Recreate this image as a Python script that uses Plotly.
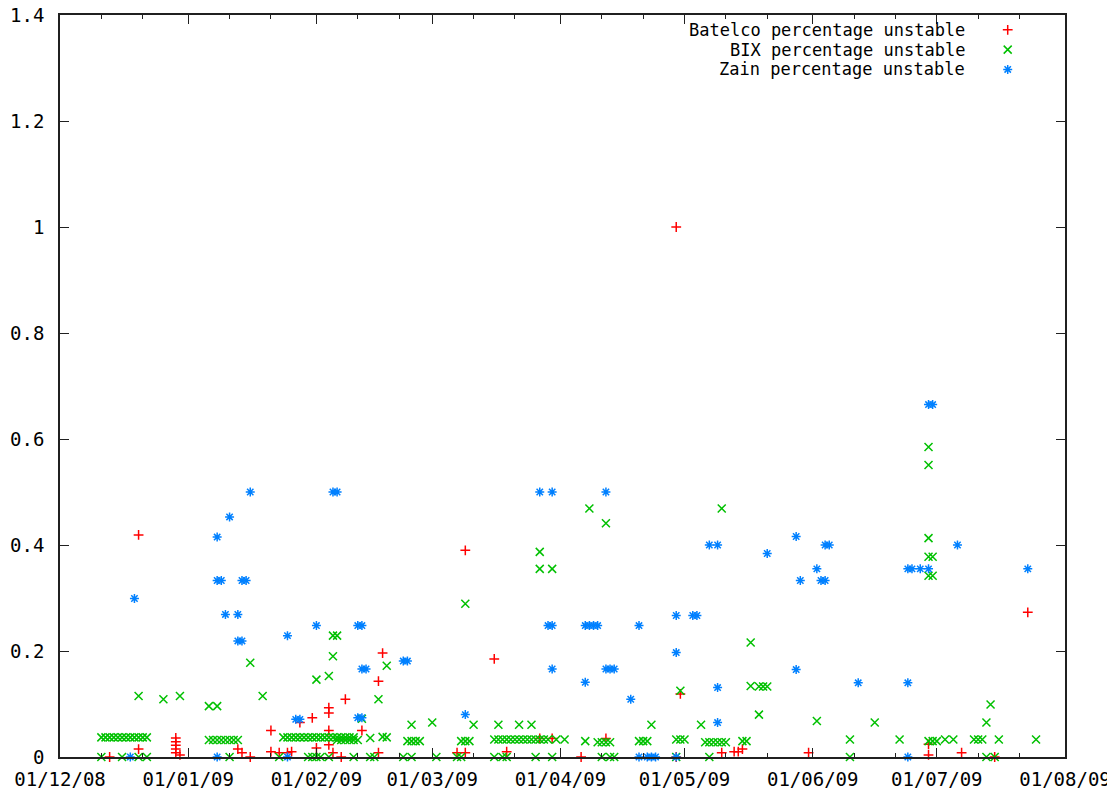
import plotly.graph_objects as go

# ---------------- data ----------------
batelco_dates = [
    "2008-12-13", "2008-12-20", "2008-12-20", "2008-12-29", "2008-12-29", "2008-12-29",
    "2008-12-29", "2008-12-29", "2008-12-30", "2009-01-13", "2009-01-14", "2009-01-16",
    "2009-01-21", "2009-01-21", "2009-01-23", "2009-01-25", "2009-01-26", "2009-01-28",
    "2009-01-31", "2009-02-01", "2009-02-04", "2009-02-04", "2009-02-04", "2009-02-04",
    "2009-02-05", "2009-02-07", "2009-02-08", "2009-02-12", "2009-02-16", "2009-02-17",
    "2009-02-16", "2009-03-07", "2009-03-09", "2009-03-09", "2009-03-16", "2009-03-19",
    "2009-03-27", "2009-03-30", "2009-04-06", "2009-04-12", "2009-04-29", "2009-04-29",
    "2009-04-30", "2009-05-10", "2009-05-13", "2009-05-14", "2009-05-15", "2009-05-31",
    "2009-06-29", "2009-06-29", "2009-07-07", "2009-07-15", "2009-07-23",
]
batelco_values = [
    0.0, 0.419, 0.015, 0.036, 0.029, 0.022,
    0.015, 0.008, 0.004, 0.015, 0.008, 0.0,
    0.05, 0.01, 0.008, 0.008, 0.01, 0.065,
    0.074, 0.017, 0.093, 0.083, 0.05, 0.023,
    0.008, 0.0, 0.109, 0.05, 0.143, 0.196,
    0.008, 0.008, 0.008, 0.39, 0.185, 0.01,
    0.035, 0.035, 0.0, 0.035, 1.0, 0.0,
    0.119, 0.008, 0.01, 0.01, 0.015, 0.008,
    0.024, 0.004, 0.008, 0.0, 0.273,
]

bix_dates = [
    # scattered higher readings
    "2008-12-20", "2008-12-26", "2008-12-30", "2009-01-06", "2009-01-08", "2009-01-16",
    "2009-01-19", "2009-02-01", "2009-02-04", "2009-02-05", "2009-02-06", "2009-02-05",
    "2009-02-12", "2009-02-16", "2009-02-18", "2009-02-24", "2009-03-01", "2009-03-09",
    "2009-03-11", "2009-03-17", "2009-03-22", "2009-03-25", "2009-03-27", "2009-03-27",
    "2009-03-30", "2009-04-08", "2009-04-12", "2009-04-23", "2009-04-30", "2009-05-05",
    "2009-05-10", "2009-05-17", "2009-05-17", "2009-05-19", "2009-05-20", "2009-05-21",
    "2009-05-19", "2009-06-02", "2009-06-16", "2009-06-29", "2009-06-29", "2009-06-29",
    "2009-06-29", "2009-06-30", "2009-06-29", "2009-06-30", "2009-07-13", "2009-07-14",
    # December band
    "2008-12-11", "2008-12-12", "2008-12-13", "2008-12-14", "2008-12-15", "2008-12-16",
    "2008-12-17", "2008-12-18", "2008-12-19", "2008-12-20", "2008-12-21", "2008-12-22",
    # January band
    "2009-01-06", "2009-01-07", "2009-01-08", "2009-01-09", "2009-01-10", "2009-01-11",
    "2009-01-12", "2009-01-13",
    # late January / February band
    "2009-01-24", "2009-01-25", "2009-01-26", "2009-01-27", "2009-01-28", "2009-01-29",
    "2009-01-30", "2009-01-31", "2009-02-01", "2009-02-02", "2009-02-03", "2009-02-04",
    "2009-02-05", "2009-02-06", "2009-02-07", "2009-02-08", "2009-02-09", "2009-02-10",
    "2009-02-06", "2009-02-07", "2009-02-08", "2009-02-09", "2009-02-10", "2009-02-11",
    "2009-02-14", "2009-02-17", "2009-02-18",
    # March - July low readings
    "2009-02-23", "2009-02-24", "2009-02-25", "2009-02-26",
    "2009-03-08", "2009-03-09", "2009-03-10",
    "2009-03-16", "2009-03-17", "2009-03-18", "2009-03-19", "2009-03-20", "2009-03-21",
    "2009-03-22", "2009-03-23", "2009-03-24", "2009-03-25", "2009-03-26", "2009-03-27",
    "2009-03-28", "2009-03-29", "2009-03-31", "2009-04-02",
    "2009-04-07", "2009-04-10", "2009-04-11", "2009-04-12", "2009-04-13",
    "2009-04-20", "2009-04-21", "2009-04-22",
    "2009-04-29", "2009-04-30", "2009-05-01",
    "2009-05-06", "2009-05-07", "2009-05-08", "2009-05-09", "2009-05-10", "2009-05-11",
    "2009-05-15", "2009-05-16",
    "2009-06-10", "2009-06-22", "2009-06-29", "2009-06-30", "2009-07-01",
    "2009-07-03", "2009-07-05", "2009-07-10", "2009-07-11", "2009-07-12",
    "2009-07-16", "2009-07-25",
    # zero readings
    "2008-12-11", "2008-12-16", "2008-12-20", "2008-12-22", "2009-01-11", "2009-01-23",
    "2009-01-30", "2009-01-31", "2009-02-01", "2009-02-02", "2009-02-04", "2009-02-10",
    "2009-02-14", "2009-02-15", "2009-02-22", "2009-02-24", "2009-03-02", "2009-03-07",
    "2009-03-08", "2009-03-16", "2009-03-18", "2009-03-19", "2009-03-26", "2009-03-30",
    "2009-04-11", "2009-04-13", "2009-04-14", "2009-04-29", "2009-05-07", "2009-06-10",
    "2009-07-13", "2009-07-15",
]
bix_values = [
    0.115, 0.109, 0.115, 0.096, 0.096, 0.178,
    0.115, 0.146, 0.153, 0.229, 0.229, 0.19,
    0.072, 0.109, 0.172, 0.061, 0.065, 0.289,
    0.061, 0.061, 0.061, 0.061, 0.387, 0.355,
    0.355, 0.469, 0.441, 0.061, 0.125, 0.061,
    0.469, 0.216, 0.134, 0.133, 0.133, 0.133,
    0.08, 0.068, 0.065, 0.585, 0.551, 0.413,
    0.378, 0.378, 0.342, 0.342, 0.065, 0.099,
    0.037, 0.037, 0.037, 0.037, 0.037, 0.037,
    0.037, 0.037, 0.037, 0.037, 0.037, 0.037,
    0.032, 0.032, 0.032, 0.032, 0.032, 0.032,
    0.032, 0.032,
    0.037, 0.037, 0.037, 0.037, 0.037, 0.037,
    0.037, 0.037, 0.037, 0.037, 0.037, 0.037,
    0.037, 0.037, 0.037, 0.037, 0.037, 0.037,
    0.032, 0.032, 0.032, 0.032, 0.032, 0.032,
    0.036, 0.038, 0.037,
    0.03, 0.03, 0.03, 0.03,
    0.03, 0.03, 0.03,
    0.033, 0.033, 0.033, 0.033, 0.033, 0.033,
    0.033, 0.033, 0.033, 0.033, 0.033, 0.033,
    0.033, 0.033, 0.033, 0.033,
    0.03, 0.028, 0.028, 0.028, 0.028,
    0.03, 0.03, 0.03,
    0.033, 0.033, 0.033,
    0.028, 0.028, 0.028, 0.028, 0.028, 0.028,
    0.03, 0.03,
    0.033, 0.033, 0.03, 0.03, 0.03,
    0.033, 0.033, 0.033, 0.033, 0.033,
    0.033, 0.033,
    0.0, 0.0, 0.0, 0.0, 0.0, 0.0,
    0.0, 0.0, 0.0, 0.0, 0.0, 0.0,
    0.0, 0.0, 0.0, 0.0, 0.0, 0.0,
    0.0, 0.0, 0.0, 0.0, 0.0, 0.0,
    0.0, 0.0, 0.0, 0.0, 0.0, 0.0,
    0.0, 0.0,
]

zain_dates = [
    "2008-12-18", "2008-12-19", "2009-01-08", "2009-01-08", "2009-01-08", "2009-01-09",
    "2009-01-10", "2009-01-11", "2009-01-13", "2009-01-13", "2009-01-14", "2009-01-14",
    "2009-01-15", "2009-01-16", "2009-01-25", "2009-01-25", "2009-01-27", "2009-01-28",
    "2009-02-01", "2009-02-05", "2009-02-06", "2009-02-11", "2009-02-12", "2009-02-11",
    "2009-02-12", "2009-02-12", "2009-02-13", "2009-02-22", "2009-02-23", "2009-03-09",
    "2009-03-27", "2009-03-30", "2009-03-29", "2009-03-30", "2009-03-30", "2009-04-07",
    "2009-04-07", "2009-04-08", "2009-04-09", "2009-04-10", "2009-04-12", "2009-04-12",
    "2009-04-13", "2009-04-14", "2009-04-18", "2009-04-20", "2009-04-20", "2009-04-22",
    "2009-04-23", "2009-04-24", "2009-04-29", "2009-04-29", "2009-04-29", "2009-05-03",
    "2009-05-04", "2009-05-07", "2009-05-09", "2009-05-09", "2009-05-09", "2009-05-21",
    "2009-05-28", "2009-05-28", "2009-05-29", "2009-06-02", "2009-06-03", "2009-06-04",
    "2009-06-04", "2009-06-05", "2009-06-12", "2009-06-24", "2009-06-25", "2009-06-27",
    "2009-06-24", "2009-06-24", "2009-06-29", "2009-06-29", "2009-06-30", "2009-07-06",
    "2009-07-23",
]
zain_values = [
    0.0, 0.299, 0.0, 0.415, 0.333, 0.333,
    0.269, 0.453, 0.269, 0.219, 0.219, 0.333,
    0.333, 0.5, 0.0, 0.229, 0.071, 0.071,
    0.248, 0.5, 0.5, 0.074, 0.074, 0.248,
    0.248, 0.166, 0.166, 0.181, 0.181, 0.08,
    0.5, 0.5, 0.248, 0.248, 0.166, 0.141,
    0.248, 0.248, 0.248, 0.248, 0.5, 0.166,
    0.166, 0.166, 0.109, 0.248, 0.0, 0.0,
    0.0, 0.0, 0.267, 0.197, 0.0, 0.267,
    0.267, 0.4, 0.4, 0.131, 0.065, 0.384,
    0.416, 0.165, 0.333, 0.355, 0.333, 0.333,
    0.4, 0.4, 0.14, 0.355, 0.355, 0.355,
    0.14, 0.0, 0.355, 0.665, 0.665, 0.4,
    0.355,
]

series_names = ["Batelco percentage unstable", "BIX percentage unstable", "Zain percentage unstable"]
series_colors = ["#ff0000", "#00c000", "#0080ff"]

month_ticks = ["2008-12-01", "2009-01-01", "2009-02-01", "2009-03-01", "2009-04-01",
               "2009-05-01", "2009-06-01", "2009-07-01", "2009-08-01"]
month_labels = ["01/12/08", "01/01/09", "01/02/09", "01/03/09", "01/04/09",
                "01/05/09", "01/06/09", "01/07/09", "01/08/09"]
minor_ticks = ["2008-12-11", "2008-12-21", "2009-01-11", "2009-01-21", "2009-02-11",
               "2009-02-21", "2009-03-11", "2009-03-21", "2009-04-11", "2009-04-21",
               "2009-05-11", "2009-05-21", "2009-06-11", "2009-06-21", "2009-07-11",
               "2009-07-21"]
y_ticks = [0, 0.2, 0.4, 0.6, 0.8, 1.0, 1.2, 1.4]
y_labels = ["0", "0.2", "0.4", "0.6", "0.8", "1", "1.2", "1.4"]

# ---------------- figure ----------------
FONT = "DejaVu Sans Mono"
fig = go.Figure()

data = [(batelco_dates, batelco_values, "cross-thin", 7),
        (bix_dates, bix_values, "x-thin", 8),
        (zain_dates, zain_values, "asterisk", 7.5)]
for (xs, ys, sym, sz), name, col in zip(data, series_names, series_colors):
    fig.add_trace(go.Scatter(
        x=xs, y=ys, mode="markers", name=name, showlegend=False, cliponaxis=False,
        marker=dict(symbol=sym, size=sz, color=col, line=dict(color=col, width=1.5)),
    ))

# legend keys (gnuplot style: text then sample on the right)
key_y = [0.9800, 0.9533, 0.9266]
for (xs, ys, sym, sz), name, col, ky in zip(data, series_names, series_colors, key_y):
    fig.add_trace(go.Scatter(
        x=[0.943], y=[ky], mode="markers", showlegend=False, xaxis="x2", yaxis="y2",
        marker=dict(symbol=sym, size=sz, color=col, line=dict(color=col, width=1.5)),
        hoverinfo="skip",
    ))
    fig.add_annotation(x=0.9025, y=ky, xref="paper", yref="paper", text=name,
                       showarrow=False, xanchor="right", yanchor="middle",
                       font=dict(family=FONT, size=17, color="black"))

axis_common = dict(showline=True, linecolor="#202020", linewidth=1.5, mirror="ticks",
                   ticks="inside", ticklen=9, tickwidth=1.2, tickcolor="#202020",
                   showgrid=False, zeroline=False, automargin=False,
                   ticklabeloverflow="allow",
                   tickfont=dict(family=FONT, size=19, color="black"))

fig.update_layout(
    width=1107, height=794,
    margin=dict(l=60, r=42, t=15, b=37),
    paper_bgcolor="white", plot_bgcolor="white",
    xaxis=dict(type="date", range=["2008-12-01", "2009-08-01"],
               tickmode="array", tickvals=month_ticks, ticktext=month_labels,
               ticklabelstandoff=4,
               minor=dict(tickmode="array", tickvals=minor_ticks, ticks="inside",
                          ticklen=4, tickcolor="#202020", tickwidth=1.2),
               **axis_common),
    yaxis=dict(range=[0, 1.4], tickmode="array", tickvals=y_ticks, ticktext=y_labels,
               ticklabelstandoff=10, **axis_common),
    xaxis2=dict(overlaying="x", range=[0, 1], visible=False, anchor="y2"),
    yaxis2=dict(overlaying="y", range=[0, 1], visible=False, anchor="x2"),
)

# remove the browser's default page margin so the figure fills the window exactly
fig.write_html("out.html",
               config={"displayModeBar": False},
               post_script="document.body.style.margin='0px';document.body.style.overflow='hidden';")
